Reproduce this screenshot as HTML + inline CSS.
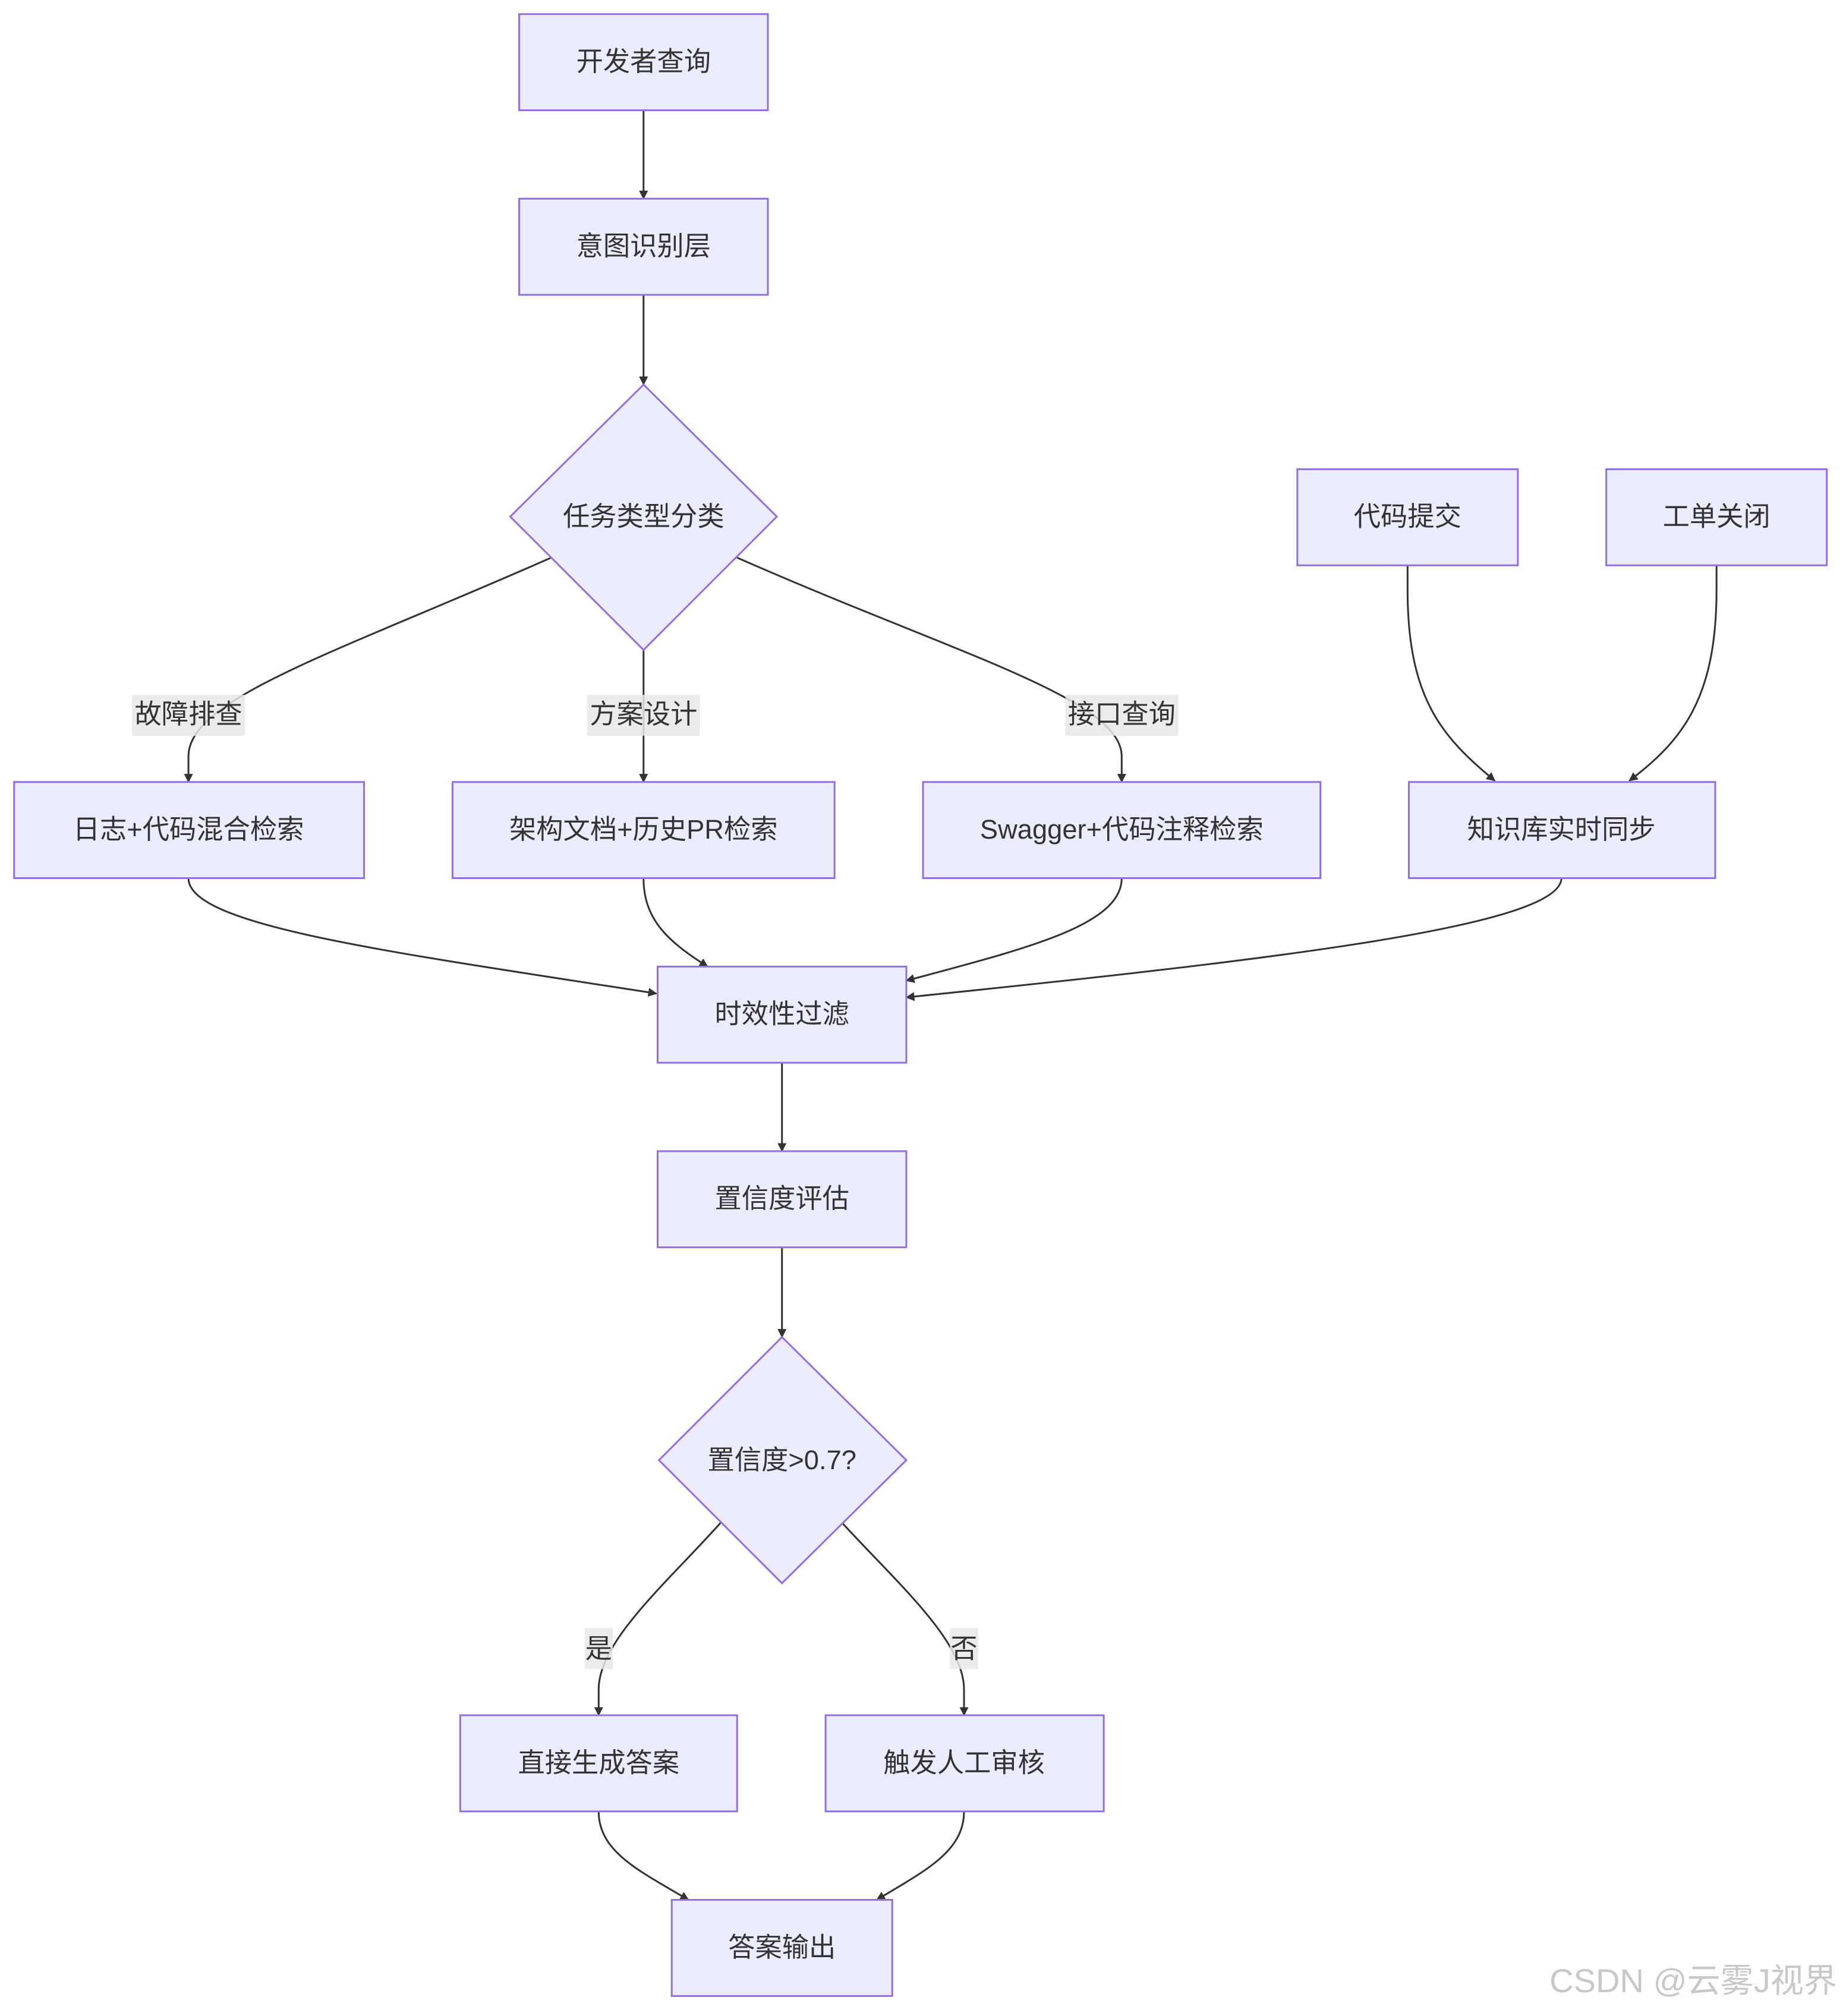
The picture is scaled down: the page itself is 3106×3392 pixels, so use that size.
<!DOCTYPE html>
<html><head><meta charset="utf-8"><style>
html,body{margin:0;padding:0;background:#fff;}
svg{display:block;}
text{font-family:"Liberation Sans","Noto Sans CJK SC",sans-serif;fill:#333;}
</style></head><body>
<svg width="3106" height="3392" viewBox="0 0 1440 1572.6" preserveAspectRatio="none" xmlns="http://www.w3.org/2000/svg">
<defs>
<marker id="a" viewBox="0 0 10 10" refX="9" refY="5" markerWidth="7" markerHeight="7" orient="auto-start-reverse" markerUnits="userSpaceOnUse">
<path d="M0,0 L10,5 L0,10 z" fill="#333"/></marker>
</defs>
<g fill="none" stroke="#333" stroke-width="1.4" marker-end="url(#a)">
<path d="M502,86 L502,155"/>
<path d="M502,230 L502,300"/>
<path d="M430,435 C260,510 147,545 147,590 L147,610"/>
<path d="M502,507 L502,610"/>
<path d="M575,435 C745,510 875,545 875,590 L875,610"/>
<path d="M1098,441 L1098,460 C1098,545 1125,575 1166,609"/>
<path d="M1339,441 L1339,460 C1339,545 1312,578 1271,609"/>
<path d="M147,685 C147,722 300,742 512,775"/>
<path d="M502,685 C502,718 522,735 552,754"/>
<path d="M875,685 C875,722 800,740 707,765"/>
<path d="M1218,685 C1218,722 1000,748 707,778"/>
<path d="M610,829 L610,898"/>
<path d="M610,973 L610,1043"/>
<path d="M562,1188 C520,1235 467,1280 467,1318 L467,1338"/>
<path d="M657,1188 C700,1235 752,1280 752,1318 L752,1338"/>
<path d="M467,1413 C467,1445 500,1460 537,1482"/>
<path d="M752,1413 C752,1445 720,1460 684,1482"/>
</g>
<g fill="#ECECFF" stroke="#9370DB" stroke-width="1.4">
<rect x="405" y="11" width="194" height="75"/>
<rect x="405" y="155" width="194" height="75"/>
<polygon points="502,300 606,403 502,507 398,403"/>
<rect x="1012" y="366" width="172" height="75"/>
<rect x="1253" y="366" width="172" height="75"/>
<rect x="11" y="610" width="273" height="75"/>
<rect x="353" y="610" width="298" height="75"/>
<rect x="720" y="610" width="310" height="75"/>
<rect x="1099" y="610" width="239" height="75"/>
<rect x="513" y="754" width="194" height="75"/>
<rect x="513" y="898" width="194" height="75"/>
<polygon points="610,1043 707,1139 610,1235 514,1139"/>
<rect x="359" y="1338" width="216" height="75"/>
<rect x="644" y="1338" width="217" height="75"/>
<rect x="524" y="1482" width="172" height="75"/>
</g>
<g fill="rgba(232,232,232,0.85)">
<rect x="103" y="542" width="88" height="32"/>
<rect x="458" y="542" width="88" height="32"/>
<rect x="831" y="542" width="88" height="32"/>
<rect x="456" y="1270" width="22" height="32"/>
<rect x="741" y="1270" width="22" height="32"/>
</g>
<g font-size="21" text-anchor="middle" dominant-baseline="central">
<text x="502" y="48">开发者查询</text>
<text x="502" y="192">意图识别层</text>
<text x="502" y="403">任务类型分类</text>
<text x="1098" y="403">代码提交</text>
<text x="1339" y="403">工单关闭</text>
<text x="147" y="557">故障排查</text>
<text x="502" y="557">方案设计</text>
<text x="875" y="557">接口查询</text>
<text x="147" y="647">日志+代码混合检索</text>
<text x="502" y="647">架构文档+历史PR检索</text>
<text x="875" y="647">Swagger+代码注释检索</text>
<text x="1218" y="647">知识库实时同步</text>
<text x="610" y="791">时效性过滤</text>
<text x="610" y="935">置信度评估</text>
<text x="610" y="1139">置信度&gt;0.7?</text>
<text x="467" y="1286">是</text>
<text x="752" y="1286">否</text>
<text x="467" y="1375">直接生成答案</text>
<text x="752" y="1375">触发人工审核</text>
<text x="610" y="1519">答案输出</text>
</g>
<text x="1433" y="1545" font-size="26" text-anchor="end" dominant-baseline="central" style="fill:#c8c8c8">CSDN @云雾J视界</text>
</svg>
</body></html>
